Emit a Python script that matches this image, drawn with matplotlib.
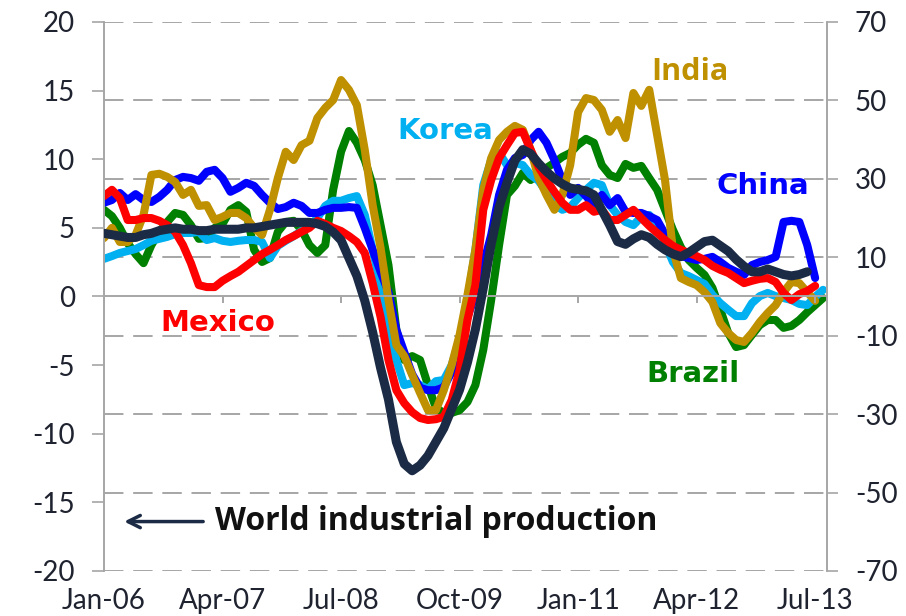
import matplotlib.pyplot as plt
import numpy as np

plt.rcParams['font.family'] = ['Lato', 'DejaVu Sans']
plt.rcParams['axes.unicode_minus'] = False

# x axis: months from Jan-06
tick_pos = [0, 15, 30, 45, 60, 75, 90]
tick_labels = ['Jan-06', 'Apr-07', 'Jul-08', 'Oct-09', 'Jan-11', 'Apr-12', 'Jul-13']

# world industrial production (left axis)
world = [4.6, 4.5, 4.4, 4.3, 4.3, 4.5, 4.6, 4.8, 4.9, 5.0, 4.9, 4.9, 4.8, 4.8, 4.9, 4.9,
         4.9, 4.9, 5.0, 5.0, 5.1, 5.2, 5.3, 5.4, 5.4, 5.4, 5.4, 5.3, 5.1, 4.7, 4.1, 2.8,
         1.5, -0.3, -2.6, -5.2, -7.5, -10.6, -12.2, -12.7, -12.3, -11.6, -10.6, -9.6, -8.2, -6.8,
         -4.8, -2.4, 0.6, 3.8, 6.5, 8.3, 9.9, 10.7, 10.4, 9.7, 9.1, 8.6, 8.2, 7.9, 7.8, 7.7,
         7.4, 6.3, 5.2, 4.0, 3.8, 4.2, 4.5, 4.3, 3.8, 3.4, 3.1, 2.9, 3.2, 3.6, 4.0, 4.1,
         3.7, 3.3, 2.7, 2.2, 1.8, 1.8, 2.0, 1.8, 1.6, 1.5, 1.6, 1.8]

# countries (right axis)
china = [23.9, 24.6, 26.4, 24.6, 26.1, 24.6, 24.1, 25.4, 27.2, 29.7, 30.5, 30.2, 29.5, 31.8, 32.3, 30.2,
         26.7, 27.7, 29.0, 28.2, 25.9, 23.9, 22.3, 22.8, 23.9, 23.1, 21.3, 21.3, 22.1, 22.6, 22.6, 22.8,
         22.6, 17.5, 11.9, 6.3, 1.1, -8.5, -14.2, -19.8, -23.3, -23.9, -23.9, -23.1, -19.3, -11.1,
         -5.2, 0.4, 8.0, 15.7, 25.9, 32.3, 35.3, 36.1, 39.9, 42.0, 39.2, 34.8, 29.7, 25.9, 27.7, 25.6,
         23.3, 25.9, 23.3, 25.1, 21.6, 21.3, 21.3, 20.5, 19.5, 15.9, 13.1, 10.3, 9.8, 9.3, 9.6, 10.1,
         8.8, 7.3, 6.3, 5.5, 8.0, 8.8, 9.3, 10.1, 19.0, 19.3, 19.0, 13.1, 4.7]
korea = [9.6, 10.3, 11.1, 11.6, 12.1, 13.1, 14.2, 14.7, 15.2, 15.9, 16.2, 16.2, 16.5, 14.4, 14.9, 14.2,
         13.9, 14.2, 14.4, 14.4, 13.9, 9.8, 12.9, 14.2, 15.4, 16.7, 18.0, 20.0, 23.1, 24.4, 24.4, 25.1,
         25.6, 20.8, 11.9, 2.9, -8.5, -16.2, -22.6, -22.1, -22.6, -23.6, -21.6, -21.3, -17.5, -11.1,
         -0.9, 11.9, 28.4, 34.8, 36.6, 33.5, 34.1, 33.5, 31.0, 29.5, 26.7, 23.6, 22.1, 22.8, 25.1, 27.2,
         29.0, 28.4, 23.3, 20.8, 19.0, 18.2, 20.3, 20.8, 18.0, 13.6, 8.8, 6.0, 5.2, 4.2, 3.2, 0.4,
         -1.7, -3.4, -5.0, -5.0, -1.7, 0.1, 0.9, 0.1, -0.4, -0.9, -1.9, -2.2, -0.1, 1.7]
brazil = [22.1, 20.5, 17.5, 13.6, 10.8, 8.5, 13.1, 16.5, 19.0, 21.3, 20.8, 18.2, 14.7, 14.9, 17.5, 18.5,
          22.1, 23.3, 21.6, 11.9, 8.8, 9.8, 16.5, 19.0, 19.3, 17.0, 13.1, 11.1, 13.1, 27.2, 36.9, 42.2,
          39.2, 34.8, 28.4, 18.2, 8.0, -8.5, -16.2, -15.2, -16.2, -22.6, -28.4, -29.7, -29.7, -29.0,
          -26.9, -22.6, -13.6, -0.9, 13.1, 25.9, 28.2, 31.5, 29.7, 31.5, 32.8, 34.1, 35.6, 36.6, 38.7, 40.2,
          39.2, 33.5, 31.0, 30.2, 33.8, 32.8, 33.3, 30.2, 27.2, 22.1, 17.0, 12.6, 9.3, 7.3, 5.5, 2.2,
          -3.4, -9.3, -12.9, -12.4, -9.8, -7.3, -6.0, -6.0, -8.0, -7.5, -6.0, -4.0, -2.2, -0.4]
india = [14.9, 17.5, 13.9, 13.9, 15.7, 20.8, 31.0, 31.3, 30.5, 29.2, 25.9, 27.2, 23.1, 23.3, 19.5, 20.3,
         21.3, 21.3, 20.0, 17.5, 15.7, 22.1, 30.2, 36.9, 34.8, 38.6, 39.7, 45.5, 48.1, 50.1, 55.2, 52.7,
         48.8, 37.4, 23.3, 12.4, -0.9, -12.4, -15.2, -20.0, -24.6, -29.0, -29.0, -23.9, -17.5, -9.8,
         0.4, 11.9, 27.2, 35.3, 39.9, 42.0, 43.5, 42.5, 37.4, 30.2, 25.9, 22.1, 25.9, 33.5, 47.0, 50.6,
         50.1, 47.6, 42.0, 45.0, 40.4, 51.9, 48.6, 52.7, 41.2, 29.7, 11.9, 4.7, 3.7, 2.9, 1.1, -1.4,
         -6.8, -9.3, -11.1, -11.6, -9.3, -6.5, -4.2, -2.2, 1.1, 3.7, 3.4, 1.1, -1.1]
mexico = [25.6, 27.2, 25.1, 19.5, 19.5, 20.0, 20.0, 19.3, 18.2, 16.5, 13.1, 8.5, 2.9, 2.4, 2.4, 4.0,
          5.2, 6.3, 7.8, 9.3, 10.8, 11.9, 13.1, 14.4, 15.4, 16.5, 17.5, 19.3, 18.5, 17.5, 16.7, 15.4,
          13.9, 11.1, 3.4, -5.2, -16.2, -23.9, -27.2, -29.5, -31.0, -31.5, -31.3, -30.7, -26.4, -18.8,
          -6.0, 2.9, 22.1, 29.7, 35.3, 38.6, 41.7, 42.0, 37.4, 33.0, 29.7, 26.7, 23.9, 22.1, 22.1, 23.3,
          21.6, 22.1, 19.5, 19.5, 20.8, 22.1, 20.0, 18.0, 16.2, 14.4, 12.9, 11.9, 11.1, 10.3, 9.3, 7.8,
          6.8, 6.0, 4.7, 3.4, 4.0, 4.5, 4.7, 3.7, 0.9, -0.9, 0.6, 1.4, 2.7]

left_ticks = [-20, -15, -10, -5, 0, 5, 10, 15, 20]
right_ticks = [-70, -50, -30, -10, 10, 30, 50, 70]

fig = plt.figure(figsize=(9.06, 6.16), dpi=100)
ax = fig.add_axes([0.1148, 0.0731, 0.7980, 0.8912])
ax2 = ax.twinx()

# left axis in front so the world line is on top
ax.set_zorder(ax2.get_zorder() + 1)
ax.patch.set_visible(False)
ax2.patch.set_facecolor('#E6E7E9')

grey = '#A6A6A6'
txt = '#1F2330'

ax2.set_ylim(-70, 70)
ax2.set_yticks(right_ticks)
ax2.set_yticklabels([str(t) for t in right_ticks])
ax2.grid(axis='y', color=grey, linestyle=(0, (10, 5)), linewidth=1.4)
ax2.tick_params(axis='y', direction='out', length=8, width=1.2, color=grey,
                labelsize=20, labelcolor=txt, pad=12)

ax.set_ylim(-20, 20)
ax.set_xlim(0, 91.5)
ax.set_yticks(left_ticks)
ax.set_yticklabels([str(t) for t in left_ticks])
ax.tick_params(axis='y', direction='out', length=9, width=1.2, color=grey,
               labelsize=20, labelcolor=txt, pad=12)
ax.set_xticks(tick_pos)
ax.set_xticklabels(tick_labels)
ax.tick_params(axis='x', length=0, labelsize=20, labelcolor=txt, pad=12)

for a in (ax, ax2):
    a.spines['top'].set_visible(False)
    a.spines['bottom'].set_visible(False)
    a.spines['left'].set_color(grey)
    a.spines['right'].set_color(grey)
    a.spines['left'].set_linewidth(1.2)
    a.spines['right'].set_linewidth(1.2)

# zero line with its small ticks
ax.axhline(0, color=grey, linewidth=1.4, zorder=1)
ax.vlines(tick_pos, -0.45, 0, color=grey, linewidth=1.4, zorder=1)

lw = 5.8
series = [(brazil, '#008000'), (korea, '#00B0F0'), (china, '#0000FF'),
          (india, '#BF9000'), (mexico, '#FF0000')]
for vals, col in series:
    ax2.plot(np.arange(len(vals)), vals, color=col, linewidth=lw,
             solid_joinstyle='round', solid_capstyle='round')

ax.plot(np.arange(len(world)), world, color='#1C2B45', linewidth=6.5,
        solid_joinstyle='round', solid_capstyle='round', zorder=3)

# labels
ax2.text(69.3, 57.3, 'India', color='#BF9000', fontsize=22, fontweight='bold',
         va='center', family='Open Sans')
ax2.text(37.1, 42.2, 'Korea', color='#00B0F0', fontsize=21, fontweight='bold',
         va='center', family='DejaVu Sans')
ax2.text(77.5, 28.2, 'China', color='#0000FF', fontsize=21, fontweight='bold',
         va='center', family='DejaVu Sans')
ax2.text(7.1, -6.8, 'Mexico', color='#FF0000', fontsize=21, fontweight='bold',
         va='center', family='DejaVu Sans')
ax2.text(68.7, -19.8, 'Brazil', color='#008000', fontsize=21, fontweight='bold',
         va='center', family='DejaVu Sans')

ax.annotate('', xy=(2.2, -16.4), xytext=(12.9, -16.4),
            arrowprops=dict(arrowstyle='->', color='#1C2B45', lw=2.5,
                            mutation_scale=22), zorder=4)
ax.text(14.0, -16.4, 'World industrial production', color='#111111', fontsize=23,
        fontweight='bold', va='center', family='Open Sans', zorder=4)

plt.savefig('out.png', dpi=100)
